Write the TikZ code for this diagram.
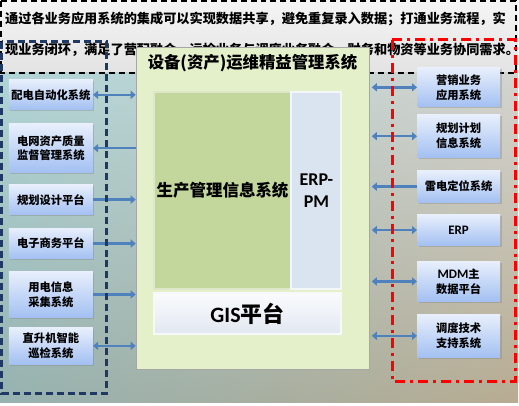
\documentclass[tikz,border=0pt]{standalone}
\usepackage{fontspec}
\setmainfont{Noto Sans CJK SC}
\newfontfamily\latfont{Carlito}
\usetikzlibrary{arrows.meta,shadows,shadings}
\definecolor{arrowblue}{HTML}{4F81BD}
\definecolor{navy}{HTML}{1F3864}
\definecolor{boxtop}{HTML}{E8EFFC}
\definecolor{boxbottom}{HTML}{A3C0F2}
\definecolor{mainfill}{HTML}{E3F0CA}
\definecolor{olivefill}{HTML}{C3D69B}
\definecolor{erpfill}{HTML}{DAE3F0}
\definecolor{gisfill}{HTML}{E2E8F1}
\definecolor{bgul}{RGB}{176,212,214}
\definecolor{bgur}{RGB}{212,212,208}
\definecolor{bgll}{RGB}{150,178,176}
\definecolor{bglr}{RGB}{184,172,146}
\begin{document}
\begin{tikzpicture}[x=1pt,y=-1pt,
  sysbox/.style={rectangle,top color=boxtop,bottom color=boxbottom,minimum width=84pt,
    align=center,inner sep=1pt,font=\fontsize{11.3}{15}\selectfont\bfseries,
    drop shadow={shadow xshift=1.5pt,shadow yshift=-1.5pt,opacity=0.35}},
  bevel/.style={rectangle,line width=2pt,align=center,inner sep=0pt},
  link/.style={draw=arrowblue,line width=2.5pt},
  both/.style={link,{Triangle[length=5pt,width=8pt]}-{Triangle[length=5pt,width=8pt]}},
  toend/.style={link,-{Triangle[length=5pt,width=8pt]}}]
   % background
   \fill[white] (0,0) rectangle (519,406);
   \shade[top color=gray!8,bottom color=gray!22] (0,0) rectangle (519,73);
   \shade[upper left=bgul,upper right=bgur,lower left=bgll,lower right=bglr] (0,73) rectangle (519,403);
   \draw[black,line width=2pt,dash pattern=on 6pt off 4pt] (1,1) rectangle (517,73);
   \node[anchor=west,inner sep=0pt,font=\fontsize{13.2}{15}\selectfont\bfseries] (line1) at (5,19)
      {通过各业务应用系统的集成可以实现数据共享，避免重复录入数据；打通业务流程，实};
   \node[anchor=west,inner sep=0pt,font=\fontsize{13.2}{15}\selectfont\bfseries] (line2) at (5,50)
      {现业务闭环，满足了营配融合，运检业务与调度业务融合，财务和物资等业务协同需求。};
   % centre system
   \node[rectangle,fill=mainfill,draw=gray!70,line width=1pt,minimum width=233.5pt,minimum height=322.5pt] (main) at (253.25,208.75) {};
   \node[font=\fontsize{16.4}{18}\selectfont\bfseries] (title) at (253,63) {设备(资产)运维精益管理系统};
   \node[bevel,fill=olivefill,draw=olivefill!55!white,minimum width=138pt,minimum height=198pt,
         font=\fontsize{16.5}{18}\selectfont\bfseries] (pms) at (223,191) {生产管理信息系统};
   \node[bevel,fill=erpfill,draw=white!70!erpfill,minimum width=50pt,minimum height=198pt,
         font=\latfont\fontsize{18}{22}\selectfont\bfseries] (erppm) at (317,191) {ERP-\\PM};
   \node[bevel,top color=white!80!gisfill,bottom color=gisfill,draw=white!70!gisfill,minimum width=188pt,minimum height=41pt,
         font=\fontsize{22}{24}\selectfont\bfseries] (gis) at (248,314.5) {{\latfont GIS}平台};
   % left systems
   \node[sysbox,minimum height=30pt] (l1) at (51,95) {配电自动化系统};
   \node[sysbox,minimum height=49pt] (l2) at (51,148.5) {电网资产质量\\监督管理系统};
   \node[sysbox,minimum height=30pt] (l3) at (51,200) {规划设计平台};
   \node[sysbox,minimum height=31pt] (l4) at (51,244) {电子商务平台};
   \node[sysbox,minimum height=46pt] (l5) at (51,295) {用电信息\\采集系统};
   \node[sysbox,minimum height=37pt] (l6) at (51,346.5) {直升机智能\\巡检系统};
   % right systems
   \node[sysbox,minimum width=83pt,minimum height=39pt] (r1) at (459.5,87.5) {营销业务\\应用系统};
   \node[sysbox,minimum width=83pt,minimum height=43pt] (r2) at (459.5,136.5) {规划计划\\信息系统};
   \node[sysbox,minimum width=83pt,minimum height=32pt] (r3) at (459.5,187) {雷电定位系统};
   \node[sysbox,minimum width=83pt,minimum height=31pt,font=\latfont\fontsize{13}{15}\selectfont\bfseries] (r4) at (459.5,230.5) {ERP};
   \node[sysbox,minimum width=83pt,minimum height=40pt] (r5) at (459.5,282) {{\latfont\fontsize{13}{15}\selectfont MDM}主\\数据平台};
   \node[sysbox,minimum width=83pt,minimum height=43pt] (r6) at (459.5,336.5) {调度技术\\支持系统};
   % links
   \draw[both] (l1.east) -- (main.west |- l1.east);
   \draw[toend] (main.west |- l2.east) -- (l2.east);
   \draw[toend] (l3.east) -- (main.west |- l3.east);
   \draw[toend] (l4.east) -- (main.west |- l4.east);
   \draw[toend] (l5.east) -- (main.west |- l5.east);
   \draw[both] (l6.east) -- (main.west |- l6.east);
   \draw[both,shorten <=2pt] (main.east |- r1.west) -- (r1.west);
   \draw[both,shorten <=2pt] (main.east |- r2.west) -- (r2.west);
   \draw[toend,shorten >=2pt] (r3.west) -- (main.east |- r3.west);
   \draw[both,shorten <=2pt] (main.east |- r4.west) -- (r4.west);
   \draw[both,shorten <=2pt] (main.east |- r5.west) -- (r5.west);
   \draw[both,shorten <=2pt] (main.east |- r6.west) -- (r6.west);
   % groups
   \draw[navy,line width=3pt,dash pattern=on 7pt off 4pt] (2,42) rectangle (107,394);
   \draw[red,line width=3pt,dash pattern=on 10pt off 5pt on 3pt off 5pt] (393,40) rectangle (516,382);
\end{tikzpicture}
\end{document}
